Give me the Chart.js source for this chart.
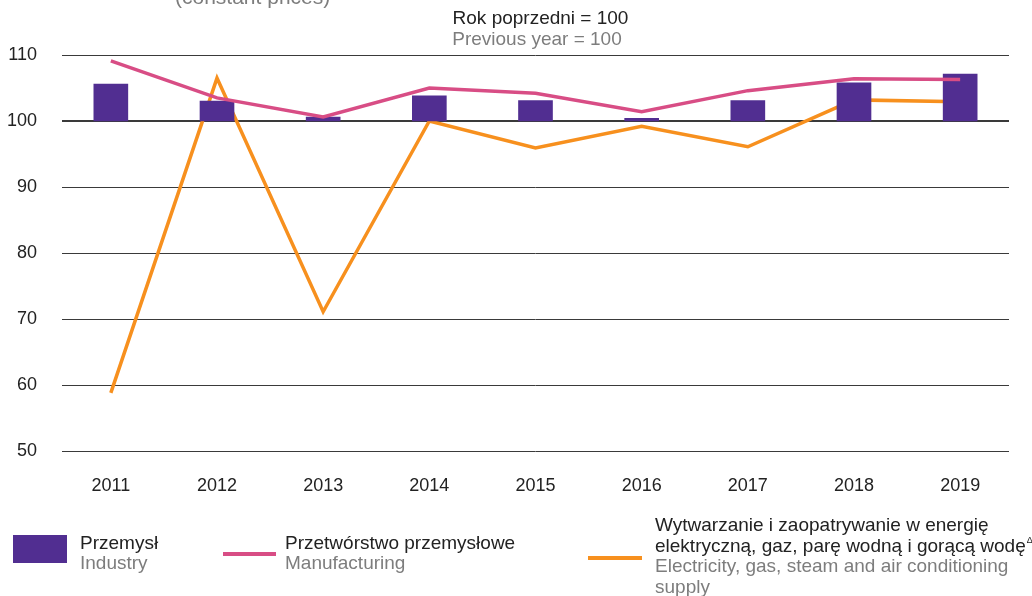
<!DOCTYPE html>
<html>
<head>
<meta charset="utf-8">
<script src="https://cdn.jsdelivr.net/npm/chart.js@4"></script>
<style>
  html, body { margin: 0; padding: 0; background: #fff; }
  #wrap { position: relative; width: 1032px; height: 596px; overflow: hidden; font-family: "Liberation Sans", Arial, sans-serif; }
  #c { position: absolute; left: 0; top: 0; }
  .t { position: absolute; white-space: nowrap; font-size: 19px; line-height: 21px; }
  .dark { color: #222; }
  .gray { color: #7d7d7d; }
  .sw { position: absolute; }
</style>
</head>
<body>
<div id="wrap">
  <canvas id="c" width="1032" height="596"></canvas>
  <div class="t gray" style="left:175px; top:-15px; font-size:21px; line-height:24px;">(constant prices)</div>
  <div class="t dark" style="left:0; width:1081px; text-align:center; top:7px;">Rok poprzedni = 100</div>
  <div class="t gray" style="left:0; width:1074px; text-align:center; top:28px;">Previous year = 100</div>

  <div class="sw" style="left:13px; top:535px; width:54px; height:28px; background:#512E91;"></div>
  <div class="t dark" style="left:80px; top:532px;">Przemysł</div>
  <div class="t gray" style="left:80px; top:552px;">Industry</div>

  <div class="sw" style="left:223px; top:552px; width:53px; height:4px; background:#D84D85;"></div>
  <div class="t dark" style="left:285px; top:532px;">Przetwórstwo przemysłowe</div>
  <div class="t gray" style="left:285px; top:552px;">Manufacturing</div>

  <div class="sw" style="left:588px; top:556px; width:54px; height:4px; background:#F7901E;"></div>
  <div class="t dark" style="left:655px; top:514px;">Wytwarzanie i zaopatrywanie w energię</div>
  <div class="t dark" style="left:655px; top:535px;">elektryczną, gaz, parę wodną i gorącą wodę<span style="font-size:9px; position:relative; top:-9px; margin-left:1px;">Δ</span></div>
  <div class="t gray" style="left:655px; top:555px;">Electricity, gas, steam and air conditioning</div>
  <div class="t gray" style="left:655px; top:576px;">supply</div>
</div>
<script>
const years = ["2011","2012","2013","2014","2015","2016","2017","2018","2019"];
const industry = [105.6, 103.0, 100.6, 103.8, 103.1, 100.4, 103.1, 105.8, 107.1];
const manufacturing = [109.1, 103.5, 100.6, 105.0, 104.2, 101.4, 104.6, 106.4, 106.3];
const energy = [58.8, 106.5, 71.1, 100.0, 95.9, 99.2, 96.1, 103.2, 102.9];
const baseLevel = 100;
const yTicks = [50, 60, 70, 80, 90, 100, 110];

const ctx = document.getElementById('c').getContext('2d');
new Chart(ctx, {
  data: {
    datasets: [
      {
        type: 'line', label: 'Przetwórstwo przemysłowe',
        data: manufacturing.map((v, i) => ({ x: i, y: v })),
        borderColor: '#D84D85', borderWidth: 3.5, pointRadius: 0, tension: 0, order: 0
      },
      {
        type: 'bar', label: 'Przemysł',
        data: industry.map((v, i) => ({ x: i, y: [baseLevel, v] })),
        backgroundColor: '#512E91', barThickness: 34, order: 1, borderSkipped: false
      },
      {
        type: 'line', label: 'Wytwarzanie',
        data: energy.map((v, i) => ({ x: i, y: v })),
        borderColor: '#F7901E', borderWidth: 3.5, pointRadius: 0, tension: 0, order: 2
      }
    ]
  },
  options: {
    responsive: false,
    animation: false,
    layout: { padding: { left: 0, right: 23, top: 55, bottom: 0 } },
    plugins: { legend: { display: false }, tooltip: { enabled: false } },
    scales: {
      x: {
        type: 'linear', min: -0.46, max: 8.46, offset: false,
        afterBuildTicks: s => { s.ticks = years.map((y, i) => ({ value: i })); },
        grid: { display: false, drawTicks: false },
        border: { display: false },
        ticks: {
          color: '#222', font: { family: 'Liberation Sans', size: 18 }, padding: 24, maxRotation: 0,
          autoSkip: false, callback: v => years[v]
        },
        afterFit: s => { s.height = 145; }
      },
      y: {
        min: 50, max: 110,
        afterBuildTicks: s => { s.ticks = yTicks.map(v => ({ value: v })); },
        grid: {
          color: '#3a3a3a',
          lineWidth: c => (c.tick && c.tick.value === 100) ? 2 : 1,
          drawTicks: false
        },
        border: { display: false },
        ticks: { color: '#222', font: { family: 'Liberation Sans', size: 18 }, padding: 25 },
        afterFit: s => { s.width = 62; }
      }
    }
  }
});
</script>
</body>
</html>
